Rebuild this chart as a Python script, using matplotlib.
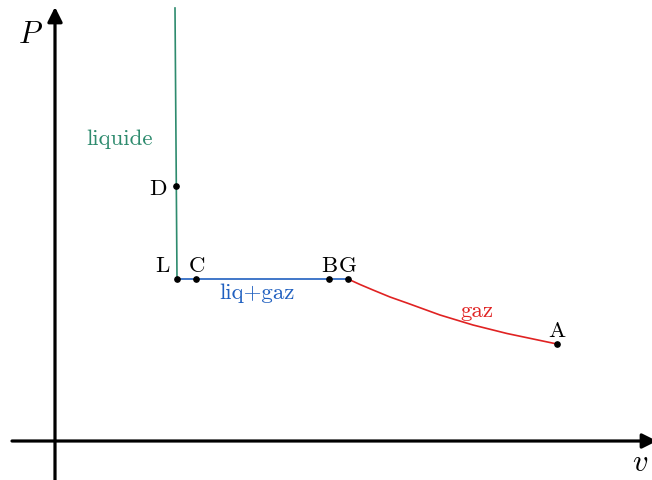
import numpy as np
import matplotlib
matplotlib.use("Agg")
from matplotlib import pyplot as plt
from matplotlib.patches import FancyArrowPatch

plt.rcParams['mathtext.fontset'] = 'cm'

# liquid branch (v, P)
liq_v = [1.20, 1.22]
liq_P = [4.33, 1.62]
# liquid-gas plateau
plat_v = [1.22, 2.93]
plat_P = [1.62, 1.62]
# gas branch
gaz_v = [2.93, 3.05, 3.18, 3.35, 3.52, 3.85, 4.18, 4.52, 5.02]
gaz_P = [1.62, 1.565, 1.51, 1.44, 1.38, 1.26, 1.16, 1.075, 0.97]
# labelled points
pt_names = ['D', 'L', 'C', 'B', 'G', 'A']
pt_v = [1.21, 1.22, 1.41, 2.74, 2.93, 5.02]
pt_P = [2.55, 1.62, 1.62, 1.62, 1.62, 0.97]
lab_off = {'D': (-0.18, -0.02), 'L': (-0.15, 0.14), 'C': (0.01, 0.14),
           'B': (0.0, 0.14), 'G': (0.0, 0.14), 'A': (0.0, 0.14)}

col_liq = '#2e8b6e'
col_plat = '#2060c0'
col_gaz = '#e02222'

fig = plt.figure(figsize=(6.52, 4.81), dpi=100)
ax = fig.add_axes([0, 0, 1, 1])
ax.set_xlim(-0.55, 5.97)
ax.set_ylim(-0.39, 4.42)
ax.axis('off')

# axes with arrows
ax.add_patch(FancyArrowPatch((-0.43, 0), (6.02, 0), arrowstyle='-|>', mutation_scale=22,
                             lw=2.3, color='black', shrinkA=0, shrinkB=0))
ax.add_patch(FancyArrowPatch((0, -0.40), (0, 4.34), arrowstyle='-|>', mutation_scale=22,
                             lw=2.3, color='black', shrinkA=0, shrinkB=0))
ax.text(-0.25, 4.07, '$P$', fontsize=22, ha='center', va='center')
ax.text(5.85, -0.21, '$v$', fontsize=22, ha='center', va='center')

ax.plot(liq_v, liq_P, color=col_liq, lw=1.2)
ax.plot(plat_v, plat_P, color=col_plat, lw=1.2)
ax.plot(gaz_v, gaz_P, color=col_gaz, lw=1.2)

ax.plot(pt_v, pt_P, 'o', color='black', ms=3.8)
for n, v, p in zip(pt_names, pt_v, pt_P):
    dx, dy = lab_off[n]
    ax.text(v + dx, p + dy, n, family='cmr10', fontsize=16.5, ha='center', va='center')

ax.text(0.65, 3.03, 'liquide', family='cmr10', fontsize=16.5, color=col_liq, ha='center', va='center')
ax.text(2.02, 1.49, 'liq+gaz', family='cmr10', fontsize=16.5, color=col_plat, ha='center', va='center')
ax.text(4.22, 1.31, 'gaz', family='cmr10', fontsize=16.5, color=col_gaz, ha='center', va='center')

plt.savefig('out.png', dpi=100)
